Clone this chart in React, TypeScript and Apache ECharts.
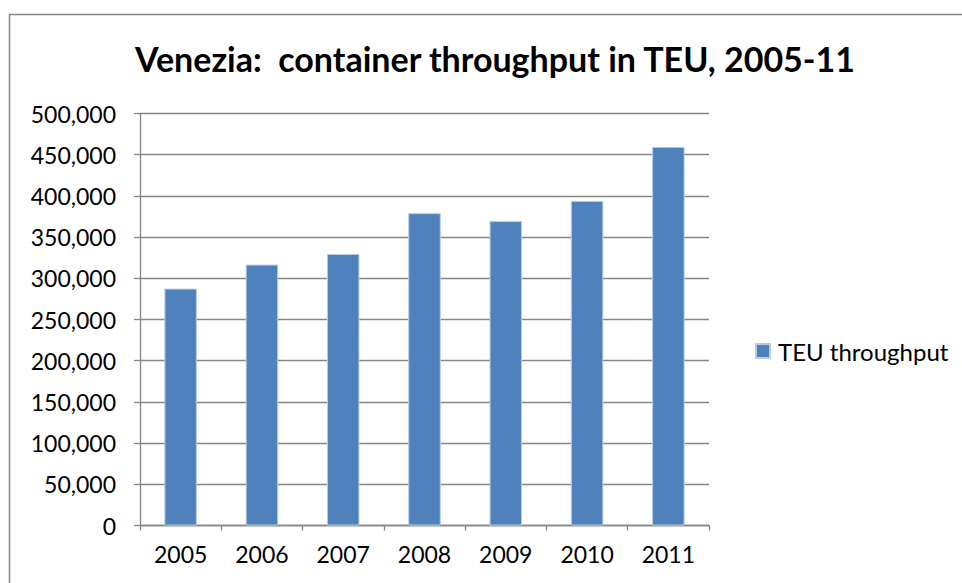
import React, { useEffect, useRef } from "react";
import * as echarts from "echarts";

const title = "Venezia:  container throughput in TEU, 2005-11";
const seriesName = "TEU throughput";
const years = ["2005", "2006", "2007", "2008", "2009", "2010", "2011"];
const teu = [287500, 316641, 329512, 379072, 369474, 393913, 459500];
const yMin = 0;
const yMax = 500000;
const yStep = 50000;

const FONT = "Lato, 'Open Sans', sans-serif";
const GRAY = "#868686";

export default function App() {
  const ref = useRef<HTMLDivElement>(null);
  useEffect(() => {
    if (!ref.current) return;
    const chart = echarts.init(ref.current, undefined, { renderer: "svg" });
    chart.setOption({
      animation: false,
      backgroundColor: "#ffffff",
      title: {
        text: title,
        left: 490,
        textAlign: "center",
        top: 36,
        textStyle: { fontFamily: FONT, fontSize: 34, fontWeight: "bold", color: "#000" },
      },
      legend: {
        data: [seriesName],
        left: 755,
        top: 339,
        padding: 0,
        itemWidth: 14,
        itemHeight: 14,
        itemGap: 8,
        icon: "rect",
        textStyle: { fontFamily: FONT, fontSize: 24, color: "#000", padding: [0, 0, 0, 3] },
      },
      grid: { left: 140, right: 253, top: 113.5, bottom: 57.5, containLabel: false },
      xAxis: {
        type: "category",
        data: years,
        axisLine: { lineStyle: { color: GRAY, width: 1.3 } },
        axisTick: { show: true, length: 5, alignWithLabel: false, lineStyle: { color: GRAY, width: 1.3 } },
        axisLabel: { fontFamily: FONT, fontSize: 23, color: "#000", margin: 17 },
      },
      yAxis: {
        type: "value",
        min: yMin,
        max: yMax,
        interval: yStep,
        axisLine: { show: true, lineStyle: { color: GRAY, width: 1.3 } },
        axisTick: { show: true, length: 6, lineStyle: { color: GRAY, width: 1.3 } },
        splitLine: { lineStyle: { color: GRAY, width: 1.3 } },
        axisLabel: {
          fontFamily: FONT,
          fontSize: 23,
          color: "#000",
          margin: 24,
          formatter: (v: number) => v.toLocaleString("en-US"),
        },
      },
      series: [
        {
          name: seriesName,
          type: "bar",
          data: teu,
          barWidth: "40%",
          itemStyle: { color: "#4F81BD", borderColor: "#B9CDE5", borderWidth: 1 },
        },
      ],
      graphic: [
        {
          type: "rect",
          shape: { x: 9.5, y: 14.5, width: 1000, height: 1000 },
          style: { fill: "none", stroke: GRAY, lineWidth: 1.5 },
          silent: true,
        },
      ],
    });
    return () => chart.dispose();
  }, []);
  return (
    <div
      ref={ref}
      style={{ position: "fixed", left: 0, top: 0, width: 962, height: 583 }}
    />
  );
}
